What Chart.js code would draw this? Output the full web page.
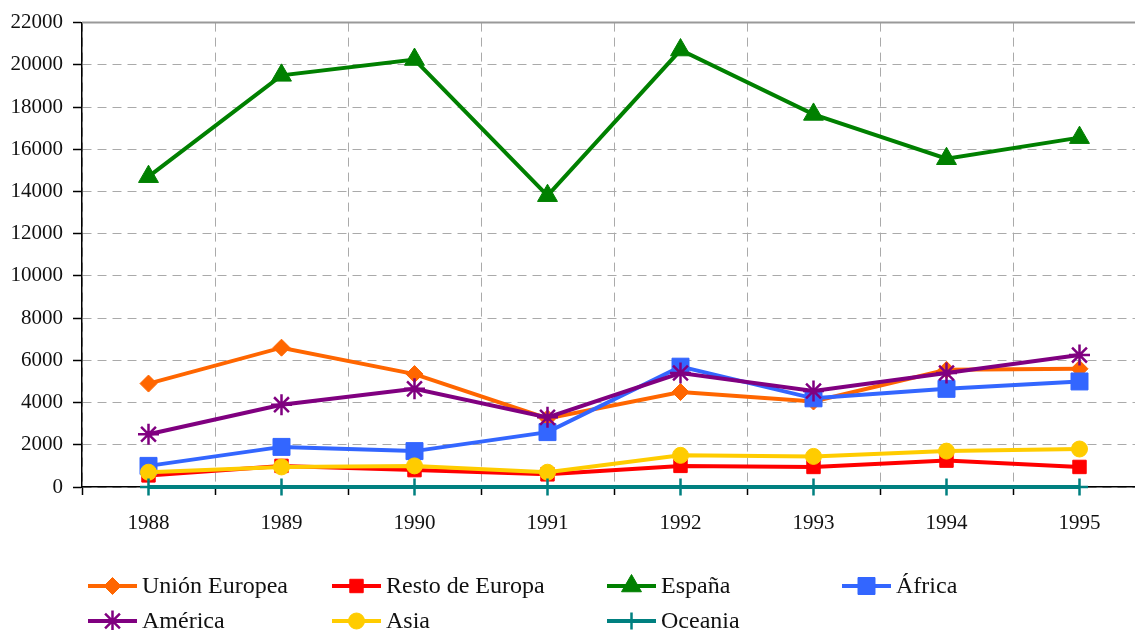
<!DOCTYPE html>
<html><head><meta charset="utf-8">
<script src="https://cdn.jsdelivr.net/npm/chart.js@4"></script>
<style>html,body{margin:0;padding:0;overflow:hidden;background:#fff}#wrap{width:1160px;height:630px;position:relative}</style>
</head><body><div id="wrap"><canvas id="c"></canvas></div>
<script>
const years = ['1988','1989','1990','1991','1992','1993','1994','1995'];
const unionEuropea = [4900,6600,5350,3250,4500,4050,5550,5600];
const restoEuropa  = [550,1000,800,600,1000,950,1250,950];
const espana       = [14700,19500,20250,13800,20700,17650,15550,16550];
const africa       = [1000,1900,1700,2600,5700,4200,4650,5000];
const america      = [2500,3900,4650,3300,5400,4550,5400,6250];
const asia         = [700,950,1000,700,1500,1450,1700,1800];
const oceania      = [0,0,0,0,0,0,0,0];
const yTicks = [0,2000,4000,6000,8000,10000,12000,14000,16000,18000,20000,22000];

const FONT = '"Liberation Serif", "Times New Roman", serif';

function ds(label, data, color, style, radius, order, bw){
  return {label, data, borderColor: color, backgroundColor: color,
    pointBackgroundColor: color, pointBorderColor: color,
    pointStyle: style, pointRadius: radius, pointHoverRadius: radius,
    pointBorderWidth: bw || 1, borderWidth: 4, tension: 0, clip: false, order};
}

const datasets = [
  ds('Unión Europea', unionEuropea, '#FF6600', 'rectRot', 8.5, 7),
  ds('Resto de Europa', restoEuropa, '#FF0000', 'rect', 9.5, 6),
  ds('España', espana, '#008000', 'triangle', 11.5, 5),
  ds('África', africa, '#3366FF', 'rect', 12, 4),
  ds('América', america, '#800080', 'star', 10.5, 3, 2.5),
  ds('Asia', asia, '#FFCC00', 'circle', 8, 2),
  ds('Oceania', oceania, '#008080', 'cross', 8.5, 1, 2.5)
];

const legendCols = [88, 332, 607, 842];
const legendRows = [586, 621];

const customLegend = {
  id: 'customLegend',
  afterDraw(chart){
    const ctx = chart.ctx;
    chart.data.datasets.forEach((d, i) => {
      const x = legendCols[i % 4], y = legendRows[Math.floor(i / 4)];
      ctx.save();
      ctx.strokeStyle = d.borderColor; ctx.lineWidth = 4;
      ctx.beginPath(); ctx.moveTo(x, y); ctx.lineTo(x + 49, y); ctx.stroke();
      ctx.fillStyle = d.pointBackgroundColor; ctx.strokeStyle = d.pointBorderColor;
      ctx.lineWidth = d.pointBorderWidth;
      Chart.helpers.drawPoint(ctx, {pointStyle: d.pointStyle, radius: d.pointRadius, rotation: 0, borderWidth: d.pointBorderWidth}, x + 24.5, y);
      ctx.fillStyle = '#111'; ctx.font = '24px ' + FONT; ctx.textBaseline = 'middle'; ctx.textAlign = 'left';
      ctx.fillText(d.label, x + 54, y + 1);
      ctx.restore();
    });
  }
};

const frame = {
  id: 'frame',
  beforeDatasetsDraw(chart){
    const a = chart.chartArea, ctx = chart.ctx;
    ctx.save(); ctx.strokeStyle = '#999'; ctx.lineWidth = 2;
    ctx.beginPath(); ctx.moveTo(a.left, a.top); ctx.lineTo(a.right, a.top); ctx.lineTo(a.right, a.bottom); ctx.stroke();
    ctx.restore();
  }
};

new Chart(document.getElementById('c'), {
  type: 'line',
  data: {labels: years, datasets},
  options: {
    responsive: true, maintainAspectRatio: false, animation: false,
    layout: {padding: {left: 0, right: 14, top: 22, bottom: 83}},
    plugins: {legend: {display: false}, tooltip: {enabled: false}},
    scales: {
      x: {
        offset: true,
        grid: {offset: true, color: '#aaa', lineWidth: 1, tickLength: 8, tickColor: '#000', tickWidth: 1.5, tickBorderDash: []},
        border: {display: true, color: '#000', width: 1.5, dash: [9, 6]},
        ticks: {color: '#111', font: {family: FONT, size: 21}, padding: 16, maxRotation: 0},
        afterFit(s){ s.height = 60; }
      },
      y: {
        min: 0, max: 22000,
        afterBuildTicks(s){ s.ticks = yTicks.map(v => ({value: v})); },
        grid: {color: '#aaa', lineWidth: 1, tickLength: 9, tickColor: '#000', tickWidth: 1.5, tickBorderDash: []},
        border: {display: true, color: '#000', width: 1.5, dash: [9, 6]},
        ticks: {color: '#111', font: {family: FONT, size: 21}, padding: 10, callback: v => String(v)},
        afterFit(s){ s.width = 82; }
      }
    }
  },
  plugins: [frame, customLegend]
});
</script>
</body></html>
